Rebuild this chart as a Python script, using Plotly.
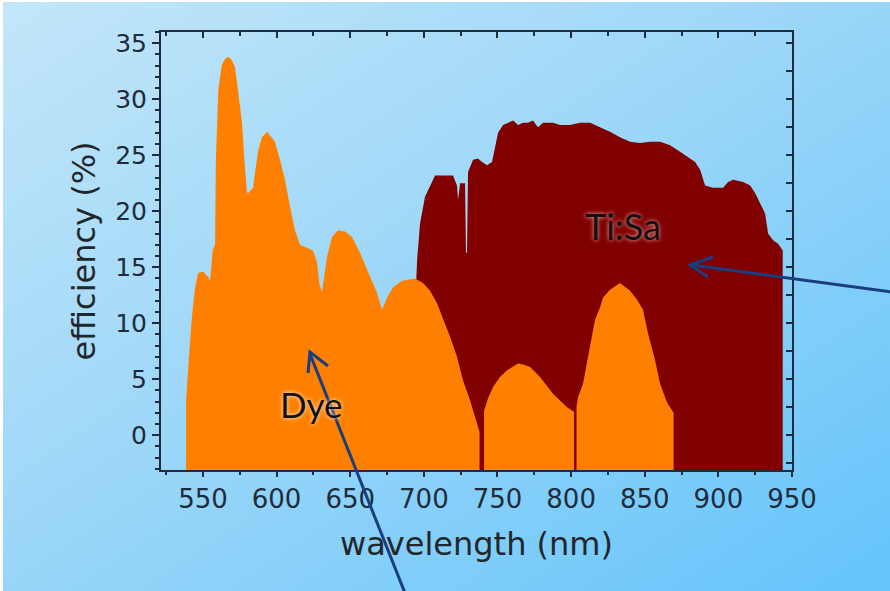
import base64
import plotly.graph_objects as go

# ---------------- data ----------------
dye_wavelength = [538.5, 540.0, 542.3, 544.6, 546.8, 550.2, 553.6, 554.8, 556.6, 558.2, 558.8,
                  560.4, 562.7, 564.9, 567.2, 569.5, 571.7, 573.8, 576.5, 578.5, 579.9, 580.6,
                  584.0, 587.4, 590.1, 593.5, 595.5, 598.9, 602.3, 605.7, 609.1, 612.5, 615.9,
                  620.6, 624.7, 627.4, 629.1, 630.8, 632.2, 634.2, 637.6, 641.7, 646.5, 651.2,
                  656.6, 663.4, 668.2, 671.6, 675.0, 679.0, 685.2, 694.0, 699.4, 704.2, 708.9,
                  713.0, 717.8, 722.5, 726.6, 731.4, 734.8, 737.1, 737.8,
                  None,
                  740.9, 743.6, 747.0, 751.7, 756.5, 763.9, 768.0, 772.1, 778.9, 787.7, 797.2, 802.0,
                  None,
                  803.7, 804.7, 808.1, 811.5, 814.2, 816.2, 819.6, 821.7, 826.4, 833.2, 840.0,
                  844.8, 848.8, 852.2, 857.0, 860.4, 865.2, 869.6]
dye_efficiency = [3.0, 6.1, 10.3, 13.2, 14.5, 14.6, 14.1, 13.8, 16.5, 17.0, 24.8,
                  30.8, 33.0, 33.6, 33.8, 33.5, 32.9, 30.8, 27.9, 23.9, 21.7, 21.6,
                  22.1, 25.4, 26.6, 27.1, 26.8, 26.2, 24.6, 22.8, 20.4, 18.3, 17.0,
                  16.7, 16.5, 15.5, 13.5, 12.8, 14.0, 15.9, 17.7, 18.3, 18.2, 17.7,
                  16.3, 14.1, 12.7, 11.2, 12.3, 13.2, 13.8, 14.0, 13.6, 12.9, 11.8,
                  10.4, 8.8, 7.0, 4.9, 3.1, 1.6, 0.6, 0.3,
                  None,
                  2.2, 3.3, 4.3, 5.2, 5.8, 6.4, 6.3, 6.1, 5.2, 3.7, 2.5, 2.1,
                  None,
                  2.6, 3.4, 4.6, 7.0, 8.8, 10.3, 11.4, 12.3, 13.0, 13.6, 12.9,
                  12.1, 11.2, 9.1, 6.7, 4.6, 2.9, 2.0]

tisa_wavelength = [694.3, 695.4, 697.4, 700.8, 704.2, 707.6, 719.8, 722.5, 723.2, 724.6, 728.0,
                   728.6, 729.3, 730.0, 733.4, 736.8, 739.5, 742.9, 746.3, 748.3, 750.4, 753.8,
                   757.2, 760.6, 764.0, 767.3, 770.7, 774.1, 777.5, 780.9, 784.3, 787.7, 792.5,
                   799.3, 806.1, 812.9, 819.6, 826.4, 833.2, 840.0, 846.8, 853.6, 860.4, 867.2,
                   874.0, 879.5, 884.2, 887.6, 891.0, 896.4, 903.2, 906.6, 910.0, 916.8, 921.6,
                   925.0, 928.4, 931.7, 933.8, 937.2, 940.6, 943.7]
tisa_efficiency = [12.0, 15.6, 18.9, 21.3, 22.3, 23.2, 23.2, 22.3, 21.0, 22.5, 22.5,
                   16.3, 16.3, 23.5, 24.6, 24.7, 24.4, 24.1, 24.4, 25.7, 27.0, 27.7,
                   27.9, 28.1, 27.7, 27.9, 27.9, 28.1, 27.5, 27.9, 27.9, 27.9, 27.7,
                   27.7, 27.9, 27.9, 27.5, 27.1, 26.6, 26.2, 26.1, 26.2, 26.2, 25.9,
                   25.3, 24.8, 24.4, 23.7, 22.3, 22.1, 22.1, 22.6, 22.8, 22.6, 22.3,
                   21.6, 20.7, 19.8, 18.0, 17.4, 17.1, 16.5]

x_ticks = [550, 600, 650, 700, 750, 800, 850, 900, 950]
y_ticks = [0, 5, 10, 15, 20, 25, 30, 35]

# ---------------- layout constants ----------------
X_RANGE = [521.5, 950.0]
Y_RANGE = [-3.1, 36.0]
W, H = 890, 591
ML, MR, MT, MB = 161, 98, 32, 121
PW, PH = W - ML - MR, H - MT - MB
INK = "#1e2c3c"


def area_polygon(xs, ys, base):
    """Close each gap-separated segment of a curve down to the axis floor."""
    px_, py_ = [], []
    seg = []
    for x, y in list(zip(xs, ys)) + [(None, None)]:
        if x is None:
            if seg:
                px_ += [seg[0][0]] + [p[0] for p in seg] + [seg[-1][0], None]
                py_ += [base] + [p[1] for p in seg] + [base, None]
            seg = []
        else:
            seg.append((x, y))
    return px_[:-1], py_[:-1]


fig = go.Figure()

tx, ty = area_polygon(tisa_wavelength, tisa_efficiency, Y_RANGE[0])
fig.add_trace(go.Scatter(x=tx, y=ty, mode="lines", fill="toself", fillcolor="#800000",
                         line=dict(width=0, color="#800000"), name="Ti:Sa",
                         hoverinfo="skip"))
dx, dy = area_polygon(dye_wavelength, dye_efficiency, Y_RANGE[0])
fig.add_trace(go.Scatter(x=dx, y=dy, mode="lines", fill="toself", fillcolor="#ff8000",
                         line=dict(width=0, color="#ff8000"), name="Dye",
                         hoverinfo="skip"))
# empty trace that carries the mirrored top / right axes
fig.add_trace(go.Scatter(x=[], y=[], xaxis="x2", yaxis="y2", showlegend=False,
                         hoverinfo="skip"))

# background gradient (inline svg, no network)
svg = (f"<svg xmlns='http://www.w3.org/2000/svg' width='{W}' height='{H}' "
       f"viewBox='0 0 {W} {H}' preserveAspectRatio='none'>"
       "<defs><linearGradient id='g' x1='0' y1='0' x2='1' y2='1'>"
       "<stop offset='0' stop-color='#c3e6f9'/>"
       "<stop offset='0.45' stop-color='#9dd7f8'/>"
       "<stop offset='1' stop-color='#64c4fb'/>"
       "</linearGradient></defs>"
       f"<rect width='{W}' height='{H}' fill='url(#g)'/></svg>")
src = "data:image/svg+xml;base64," + base64.b64encode(svg.encode()).decode()


def px(X):
    return (X - ML) / PW


def py(Y):
    return (H - MB - Y) / PH


fig.add_layout_image(dict(source=src, xref="paper", yref="paper",
                          x=px(3), y=py(2), sizex=(W - 3) / PW, sizey=(H - 2) / PH,
                          xanchor="left", yanchor="top", sizing="stretch",
                          layer="below"))

tick_font = dict(family="DejaVu Sans", size=25, color=INK)
title_font = dict(family="DejaVu Sans", size=32, color="#23272b")

fig.update_layout(
    width=W, height=H,
    margin=dict(l=ML, r=MR, t=MT, b=MB, pad=0),
    paper_bgcolor="white",
    plot_bgcolor="rgba(0,0,0,0)",
    showlegend=False,
    xaxis=dict(range=X_RANGE, tickvals=x_ticks, ticks="outside", ticklen=5, tickwidth=2,
               tickcolor=INK, showline=True, linecolor=INK, linewidth=2,
               showgrid=False, zeroline=False, tickfont=dict(family="DejaVu Sans", size=26, color=INK),
               minor=dict(dtick=25, tick0=525, ticks="outside", ticklen=3, tickcolor=INK),
               title=dict(text="wavelength (nm)", font=title_font, standoff=19)),
    yaxis=dict(range=Y_RANGE, tickvals=y_ticks, ticks="outside", ticklen=7, tickwidth=2,
               tickcolor=INK, showline=True, linecolor=INK, linewidth=2,
               showgrid=False, zeroline=False, tickfont=tick_font,
               minor=dict(dtick=1, tick0=0, ticks="outside", ticklen=4, tickcolor=INK),
               title=dict(text="efficiency (%)", font=title_font, standoff=10)),
    xaxis2=dict(range=X_RANGE, overlaying="x", side="top", anchor="y2",
                tick0=550, dtick=50, ticks="inside", ticklen=6, tickwidth=2, tickcolor=INK,
                showticklabels=False, showline=True, linecolor=INK, linewidth=2,
                showgrid=False, zeroline=False,
                minor=dict(dtick=25, tick0=525, ticks="inside", ticklen=4, tickcolor=INK)),
    yaxis2=dict(range=Y_RANGE, overlaying="y", side="right", anchor="x2",
                tick0=0, dtick=2.5, ticks="inside", ticklen=6, tickwidth=2, tickcolor=INK,
                showticklabels=False, showline=True, linecolor=INK, linewidth=2,
                showgrid=False, zeroline=False),
)

# labels
fig.add_annotation(x=624, y=2.8, xref="x", yref="y", text="Dye", showarrow=False,
                   font=dict(family="Lato", size=35, color="#111111",
                             shadow="0px 0px 4px #fff3e0"))
fig.add_annotation(x=835, y=18.7, xref="x", yref="y", text="Ti:Sa", showarrow=False,
                   font=dict(family="Lato", size=36, color="#111111",
                             shadow="0px 0px 4px #f4b8b8"))

# arrows
ARROW = "#1a3d80"
fig.add_shape(type="line", xref="paper", yref="paper",
              x0=px(405), y0=py(593), x1=px(310), y1=py(354),
              line=dict(color=ARROW, width=3), layer="above")
fig.add_shape(type="path", xref="paper", yref="paper",
              path=f"M {px(308)},{py(373)} L {px(310)},{py(352)} L {px(328)},{py(366)}",
              line=dict(color=ARROW, width=3), layer="above")
fig.add_shape(type="line", xref="paper", yref="paper",
              x0=px(892), y0=py(292), x1=px(692), y1=py(265),
              line=dict(color=ARROW, width=3), layer="above")
fig.add_shape(type="path", xref="paper", yref="paper",
              path=f"M {px(713)},{py(257)} L {px(690)},{py(265)} L {px(708)},{py(277)}",
              line=dict(color=ARROW, width=3), layer="above")

fig.write_html("out.html", config={"displayModeBar": False},
               post_script="document.body.style.margin='0';document.body.style.overflow='hidden';")
